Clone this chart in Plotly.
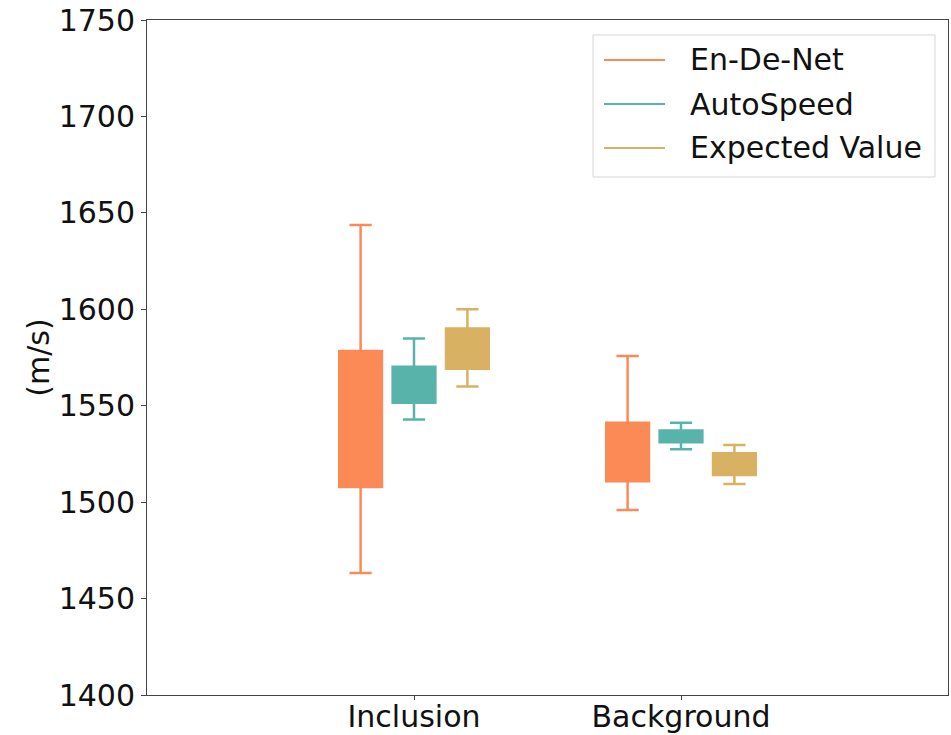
import plotly.graph_objects as go

# Group labels and their positions on the x axis
categories = ["Inclusion", "Background"]
group_pos = [1, 2]

methods = ["En-De-Net", "AutoSpeed", "Expected Value"]
colors = ["#FC8A57", "#58B4AA", "#D8B162"]
offsets = [-0.2, 0.0, 0.2]

# Box statistics (m/s) per method, ordered as [Inclusion, Background]
lower_whisker = {
    "En-De-Net": [1463.3, 1495.9],
    "AutoSpeed": [1542.9, 1527.4],
    "Expected Value": [1559.9, 1509.4],
}
q1 = {
    "En-De-Net": [1507.9, 1510.8],
    "AutoSpeed": [1551.6, 1531.0],
    "Expected Value": [1569.2, 1514.1],
}
median = {
    "En-De-Net": [1543.0, 1526.0],
    "AutoSpeed": [1561.0, 1534.0],
    "Expected Value": [1580.0, 1520.0],
}
q3 = {
    "En-De-Net": [1578.4, 1541.2],
    "AutoSpeed": [1570.2, 1537.1],
    "Expected Value": [1590.1, 1525.3],
}
upper_whisker = {
    "En-De-Net": [1643.7, 1575.8],
    "AutoSpeed": [1584.9, 1541.2],
    "Expected Value": [1600.0, 1529.6],
}

font_family = "DejaVu Sans"
fsize = 30
fig = go.Figure()

for m, c, off in zip(methods, colors, offsets):
    fig.add_trace(go.Box(
        x=[p + off for p in group_pos],
        q1=q1[m], median=median[m], q3=q3[m],
        lowerfence=lower_whisker[m], upperfence=upper_whisker[m],
        width=0.16,
        whiskerwidth=0.52,
        fillcolor=c,
        line=dict(color=c, width=2.5),
        showlegend=False,
        hoverinfo="skip",
        name=m,
    ))

# Legend drawn in paper space: frame, line samples and labels
shapes = [dict(
    type="rect", xref="paper", yref="paper",
    x0=(593 - 147) / 801, x1=(935 - 147) / 801,
    y0=(695 - 177) / 675, y1=(695 - 35) / 675,
    line=dict(color="#d6d6d6", width=1), fillcolor="rgba(255,255,255,0.85)",
    layer="above",
)]
annotations = []
for i, (m, c) in enumerate(zip(methods, colors)):
    py = 60 + 44 * i
    yp = (695 - py) / 675
    shapes.append(dict(
        type="line", xref="paper", yref="paper",
        x0=(604 - 147) / 801, x1=(665 - 147) / 801, y0=yp, y1=yp,
        line=dict(color=c, width=2), layer="above",
    ))
    annotations.append(dict(
        xref="paper", yref="paper", x=(688 - 147) / 801, y=yp,
        xanchor="left", yanchor="middle", text=m, showarrow=False,
        font=dict(size=fsize, family=font_family, color="#111111"),
    ))

fig.update_layout(
    width=951, height=735,
    margin=dict(l=147, r=3, t=20, b=40),
    paper_bgcolor="white", plot_bgcolor="white",
    font=dict(family=font_family, size=fsize, color="#111111"),
    showlegend=False,
    shapes=shapes,
    annotations=annotations,
    xaxis=dict(
        range=[0, 3], tickvals=group_pos, ticktext=categories,
        showline=True, linecolor="#444444", linewidth=1, mirror=True,
        ticks="outside", ticklen=4, tickcolor="#444444",
        ticklabelstandoff=-9,
        showgrid=False, zeroline=False, automargin=False,
        tickfont=dict(size=fsize, family=font_family),
    ),
    yaxis=dict(
        range=[1400, 1750], dtick=50,
        showline=True, linecolor="#444444", linewidth=1, mirror=True,
        ticks="outside", ticklen=5, tickcolor="#444444",
        showgrid=False, zeroline=False, automargin=False,
        title=dict(text="(m/s)", standoff=0, font=dict(size=fsize, family=font_family)),
        tickfont=dict(size=fsize, family=font_family),
    ),
)

fig.write_html("out.html")
